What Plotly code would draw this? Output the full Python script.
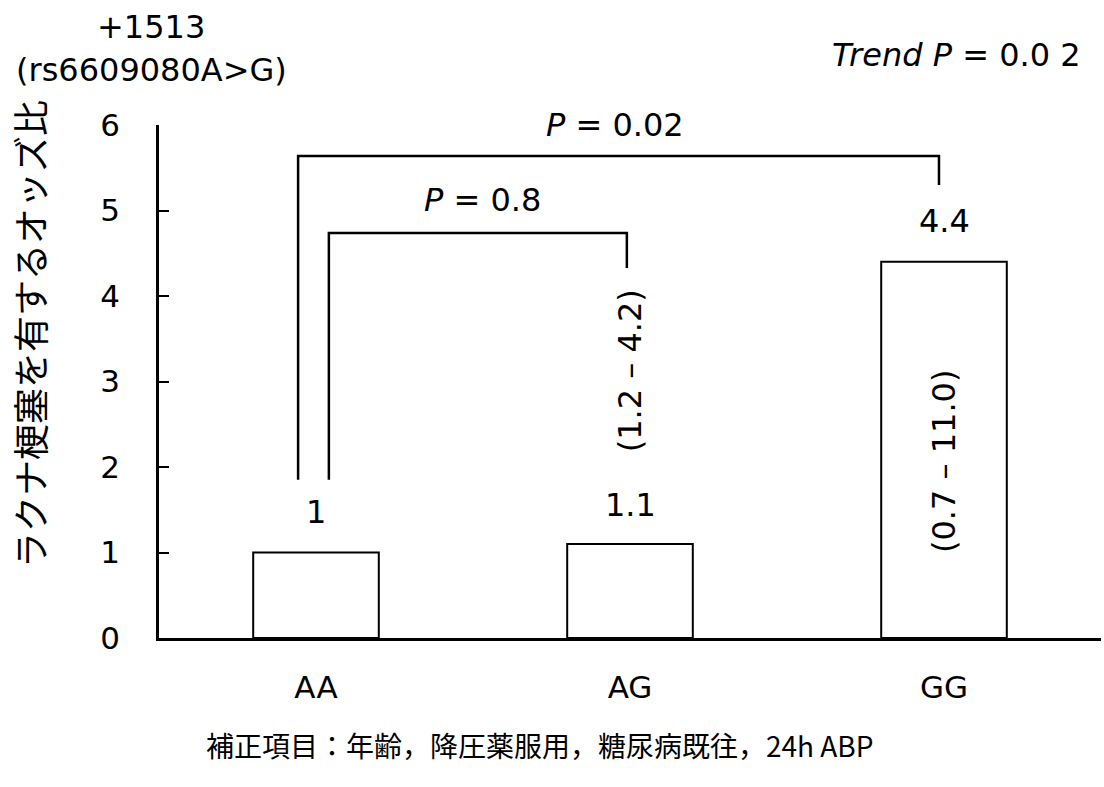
import plotly.graph_objects as go

categories = ["AA", "AG", "GG"]
odds_ratios = [1.0, 1.1, 4.4]
value_labels = ["1", "1.1", "4.4"]
ci_labels = ["", "(1.2 – 4.2)", "(0.7 – 11.0)"]
y_ticks = [0, 1, 2, 3, 4, 5, 6]

FONT = "DejaVu Sans, Verdana, Noto Sans CJK JP, sans-serif"
JFONT = "Noto Sans CJK JP, DejaVu Sans, sans-serif"
FS = 32

# plot area geometry (pixels)
L, R, T, B = 159, 3, 125, 149
W, H = 1104, 787

fig = go.Figure()
fig.add_trace(go.Bar(
    x=[0, 1, 2], y=odds_ratios, width=0.4,
    marker=dict(color="white", line=dict(color="black", width=2)),
    hoverinfo="skip", showlegend=False,
))

# value labels above bars
label_y = [1.474, 1.556, 4.877]
for i, (t, yy) in enumerate(zip(value_labels, label_y)):
    fig.add_annotation(x=i, y=yy, text=t, showarrow=False, xref="x", yref="y",
                       font=dict(family=FONT, size=FS, color="black"))

# CI labels (rotated)
ci_y = [0, 3.12, 2.058]
for i in (1, 2):
    fig.add_annotation(x=i, y=ci_y[i], text=ci_labels[i], showarrow=False,
                       textangle=-90, xref="x", yref="y",
                       font=dict(family=FONT, size=FS, color="black"))

# significance brackets
brackets = [
    # x_left, x_right, y_top, y_left_bottom, y_right_bottom, label, label_x, label_y
    (-0.057, 1.984, 5.637, 1.85, 5.298, "<i>P</i> = 0.02", 0.952, 6.0),
    (0.041, 0.990, 4.737, 1.85, 4.327, "<i>P</i> = 0.8", 0.529, 5.123),
]
for xl, xr, yt, ylb, yrb, lab, lx, ly in brackets:
    fig.add_trace(go.Scatter(
        x=[xl, xl, xr, xr], y=[ylb, yt, yt, yrb], mode="lines",
        line=dict(color="black", width=2.5), hoverinfo="skip", showlegend=False,
        cliponaxis=False,
    ))
    fig.add_annotation(x=lx, y=ly, text=lab, showarrow=False, xref="x", yref="y",
                       font=dict(family=FONT, size=FS, color="black"))

fig.update_layout(
    width=W, height=H,
    margin=dict(l=L, r=R, t=T, b=B),
    paper_bgcolor="white", plot_bgcolor="white",
    xaxis=dict(
        range=[-0.5, 2.5], tickmode="array", tickvals=[0, 1, 2], ticktext=categories,
        showline=True, linecolor="black", linewidth=2.5, ticks="",
        showgrid=False, zeroline=False, automargin=False,
        tickfont=dict(family=FONT, size=31, color="black"),
        ticklabelstandoff=20,
    ),
    yaxis=dict(
        range=[0, 6], tickmode="array", tickvals=y_ticks,
        showline=True, linecolor="black", linewidth=2.5,
        ticks="inside", ticklen=10, tickwidth=2, tickcolor="black",
        showgrid=False, zeroline=False, automargin=False,
        tickfont=dict(family=FONT, size=31, color="black"),
        ticklabelstandoff=30,
    ),
)


def paper_text(px, py, text, xanchor="center", size=FS, family=FONT, angle=0):
    fig.add_annotation(
        x=(px - L) / (W - L - R), y=(H - B - py) / (H - T - B),
        xref="paper", yref="paper", text=text, showarrow=False,
        xanchor=xanchor, yanchor="middle", textangle=angle,
        font=dict(family=family, size=size, color="black"),
    )


paper_text(151, 27, "+1513")
paper_text(151, 70, "(rs6609080A>G)")
paper_text(1083, 55, "<i>Trend P</i> = 0.0 2", xanchor="right", size=32)
paper_text(29, 334, "ラクナ梗塞を有するオッズ比", family=JFONT, size=36, angle=-90)
paper_text(540, 745, "補正項目：年齢，降圧薬服用，糖尿病既往，24h ABP",
           family=JFONT, size=28)

fig.write_html("out.html", post_script="document.body.style.margin='0';",
               config={"displayModeBar": False})
